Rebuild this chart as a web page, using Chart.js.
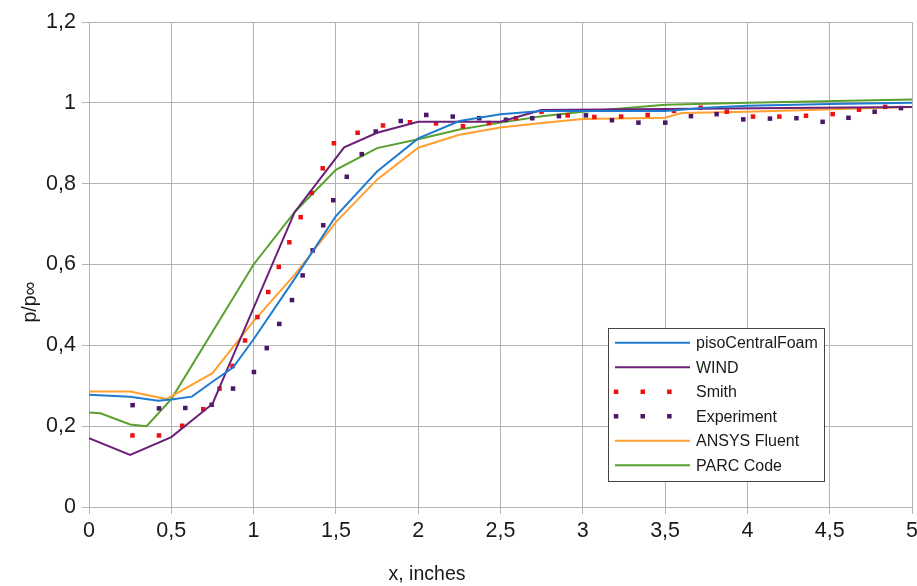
<!DOCTYPE html>
<html>
<head>
<meta charset="utf-8">
<title>p/p∞ vs x</title>
<script src="https://cdn.jsdelivr.net/npm/chart.js@4.4.1/dist/chart.umd.min.js"></script>
<style>
    body { margin: 0; background: #ffffff; }
    #wrap { width: 917px; height: 586px; }
</style>
</head>
<body>
<div id="wrap"><canvas id="pressureChart" width="917" height="586"></canvas></div>
<script>
// ------------------------------------------------------------
// Data (x in inches, p/p∞)
// ------------------------------------------------------------
const pisoX = [0, 0.25, 0.42, 0.5, 0.625, 0.75, 0.875, 1.0, 1.25, 1.5, 1.75, 2.0, 2.25, 2.5, 2.75, 3.0, 3.5, 3.75, 4.0, 4.5, 5.0];
const pisoY = [0.278, 0.273, 0.263, 0.266, 0.273, 0.31, 0.345, 0.415, 0.565, 0.72, 0.83, 0.912, 0.955, 0.972, 0.98, 0.98, 0.98, 0.988, 0.993, 0.997, 1.0];

const windX = [0, 0.25, 0.5, 0.75, 1.25, 1.55, 1.75, 2.0, 2.5, 2.75, 5.0];
const windY = [0.17, 0.129, 0.173, 0.255, 0.73, 0.89, 0.926, 0.953, 0.953, 0.982, 0.99];

const smithX = [0.264, 0.425, 0.566, 0.694, 0.793, 0.872, 0.948, 1.023, 1.089, 1.153, 1.217, 1.286, 1.353, 1.42, 1.488,
    1.632, 1.786, 1.95, 2.108, 2.272, 2.43, 2.594, 2.749, 2.908, 3.07, 3.233, 3.394, 3.554, 3.716, 3.875,
    4.034, 4.194, 4.356, 4.518, 4.678, 4.837];
const smithY = [0.177, 0.177, 0.201, 0.242, 0.293, 0.349, 0.412, 0.47, 0.532, 0.594, 0.655, 0.717, 0.777, 0.838, 0.9,
    0.926, 0.944, 0.952, 0.949, 0.942, 0.95, 0.962, 0.978, 0.969, 0.965, 0.966, 0.97, 0.98, 0.988, 0.978,
    0.966, 0.966, 0.968, 0.972, 0.983, 0.99];

const expX = [0.265, 0.425, 0.585, 0.745, 0.875, 1.002, 1.08, 1.156, 1.233, 1.298, 1.359, 1.423, 1.484, 1.566, 1.657,
    1.742, 1.894, 2.049, 2.21, 2.371, 2.533, 2.693, 2.855, 3.019, 3.177, 3.338, 3.501, 3.657, 3.813, 3.975,
    4.137, 4.298, 4.457, 4.614, 4.773, 4.933];
const expY = [0.252, 0.244, 0.245, 0.253, 0.293, 0.334, 0.393, 0.453, 0.512, 0.573, 0.635, 0.697, 0.759, 0.817, 0.873,
    0.929, 0.955, 0.97, 0.966, 0.962, 0.958, 0.962, 0.967, 0.969, 0.957, 0.951, 0.951, 0.967, 0.972, 0.959,
    0.961, 0.962, 0.953, 0.963, 0.978, 0.987];

const ansysX = [0, 0.25, 0.47, 0.75, 1.0, 1.25, 1.5, 1.75, 2.0, 2.25, 2.5, 2.75, 3.0, 3.5, 3.6, 4.0, 5.0];
const ansysY = [0.286, 0.286, 0.267, 0.331, 0.46, 0.575, 0.705, 0.81, 0.889, 0.921, 0.939, 0.95, 0.96, 0.963, 0.975, 0.978, 0.99];

const parcX = [0, 0.07, 0.25, 0.35, 0.5, 1.0, 1.25, 1.5, 1.75, 2.0, 2.25, 2.5, 2.75, 3.0, 3.5, 4.0, 5.0];
const parcY = [0.234, 0.232, 0.204, 0.2, 0.267, 0.6, 0.73, 0.834, 0.888, 0.91, 0.934, 0.951, 0.967, 0.978, 0.995, 1.0, 1.008];

const FONT = "'Liberation Sans', Arial, sans-serif";
const TEXT_COLOR = '#1a1a1a';
const GRID_COLOR = '#b3b3b3';

// zip two arrays into {x, y} points
function toPoints(xs, ys) {
    return xs.map((x, i) => ({ x: x, y: ys[i] }));
}

// decimal comma like the original
function commaLabel(value) {
    return String(Math.round(value * 10) / 10).replace('.', ',');
}

function lineSeries(label, xs, ys, color) {
    return {
        label: label,
        data: toPoints(xs, ys),
        showLine: true,
        borderColor: color,
        backgroundColor: color,
        borderWidth: 2,
        pointRadius: 0,
        tension: 0,
        dotted: false
    };
}

function dotSeries(label, xs, ys, color) {
    return {
        label: label,
        data: toPoints(xs, ys),
        showLine: false,
        borderColor: color,
        backgroundColor: color,
        pointStyle: 'rect',
        pointRadius: 3.2,
        pointBorderWidth: 0,
        dotted: true
    };
}

// Legend box drawn inside the plot area
const boxLegend = {
    id: 'boxLegend',
    afterDraw(chart) {
        const ctx = chart.ctx;
        const x = 608.5, y = 328.5, w = 216, h = 153;
        ctx.save();
        ctx.fillStyle = '#ffffff';
        ctx.strokeStyle = '#444444';
        ctx.lineWidth = 1;
        ctx.fillRect(x, y, w, h);
        ctx.strokeRect(x, y, w, h);

        ctx.font = '16px ' + FONT;
        ctx.textBaseline = 'middle';
        ctx.textAlign = 'left';
        chart.data.datasets.forEach((ds, i) => {
            const rowY = 342.7 + i * 24.5;
            if (ds.dotted) {
                ctx.fillStyle = ds.backgroundColor;
                [616, 642.7, 669.3].forEach(dx => ctx.fillRect(dx - 2.2, rowY - 2.2, 4.5, 4.5));
            } else {
                ctx.strokeStyle = ds.borderColor;
                ctx.lineWidth = 2;
                ctx.beginPath();
                ctx.moveTo(615, rowY);
                ctx.lineTo(690, rowY);
                ctx.stroke();
            }
            ctx.fillStyle = TEXT_COLOR;
            ctx.fillText(ds.label, 696, rowY + 1);
        });
        ctx.restore();
    }
};

// Axis titles placed like the original
const axisTitles = {
    id: 'axisTitles',
    afterDraw(chart) {
        const ctx = chart.ctx;
        ctx.save();
        ctx.font = '19.5px ' + FONT;
        ctx.fillStyle = TEXT_COLOR;
        ctx.textAlign = 'center';
        ctx.textBaseline = 'middle';
        ctx.fillText('x, inches', 427, 575);
        ctx.translate(31, 302);
        ctx.rotate(-Math.PI / 2);
        ctx.fillText('p/p∞', 0, 0);
        ctx.restore();
    }
};

const ctx = document.getElementById('pressureChart').getContext('2d');
const pressureChart = new Chart(ctx, {
    type: 'scatter',
    data: {
        datasets: [
            lineSeries('pisoCentralFoam', pisoX, pisoY, '#1f7bd0'),
            lineSeries('WIND', windX, windY, '#6b2077'),
            dotSeries('Smith', smithX, smithY, '#ee1111'),
            dotSeries('Experiment', expX, expY, '#4a1769'),
            lineSeries('ANSYS Fluent', ansysX, ansysY, '#ffa030'),
            lineSeries('PARC Code', parcX, parcY, '#5aa02e')
        ]
    },
    options: {
        responsive: false,
        animation: false,
        devicePixelRatio: 1,
        layout: { padding: { top: 22, right: 0, left: 0, bottom: 0 } },
        plugins: {
            legend: { display: false },
            tooltip: { enabled: false }
        },
        events: [],
        scales: {
            x: {
                type: 'linear',
                min: 0,
                max: 5,
                afterFit: (scale) => {
                    scale.height = 79;
                    scale.paddingRight = 5;
                    scale.paddingLeft = 0;
                },
                ticks: {
                    stepSize: 0.5,
                    color: TEXT_COLOR,
                    font: { family: FONT, size: 21.5 },
                    padding: 4,
                    maxRotation: 0,
                    callback: (value) => commaLabel(value)
                },
                grid: { color: GRID_COLOR, tickLength: 7, tickColor: GRID_COLOR },
                border: { color: GRID_COLOR }
            },
            y: {
                min: 0,
                max: 1.2,
                afterFit: (scale) => { scale.width = 89; },
                ticks: {
                    stepSize: 0.2,
                    color: TEXT_COLOR,
                    font: { family: FONT, size: 21.5 },
                    padding: 6,
                    callback: (value) => commaLabel(value)
                },
                grid: { color: GRID_COLOR, tickLength: 7, tickColor: GRID_COLOR },
                border: { color: GRID_COLOR }
            }
        }
    },
    plugins: [boxLegend, axisTitles]
});
</script>
</body>
</html>
